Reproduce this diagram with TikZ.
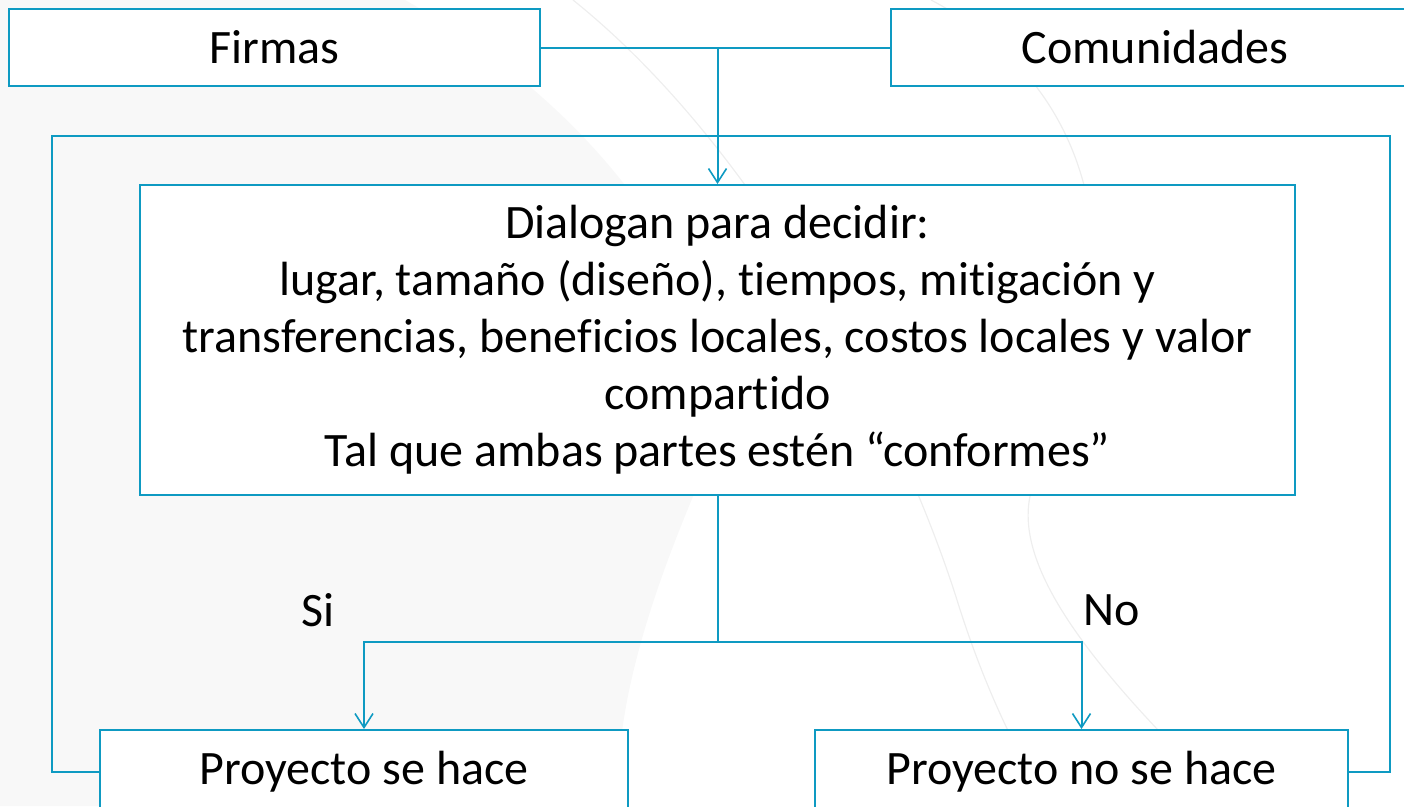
\documentclass[tikz,border=0pt]{standalone}
\usepackage{fontspec}
\setmainfont{Carlito}[Ligatures=NoCommon]
\usetikzlibrary{arrows.meta}
\definecolor{ln}{RGB}{14,154,194}
\definecolor{bggrey}{RGB}{248,248,248}
\definecolor{arcgrey}{RGB}{238,238,238}
\begin{document}
\begin{tikzpicture}[x=1pt,y=-1pt,
  box/.style={draw=ln,line width=2pt,fill=white,inner sep=0pt,align=center,
    font=\fontsize{48}{57}\selectfont},
  lbl/.style={inner sep=0pt,font=\fontsize{48}{57}\selectfont},
  conn/.style={draw=ln,line width=2pt},
  arr/.style={conn,-{Straight Barb[length=14pt,width=18pt,line width=1.6pt]}}]
\useasboundingbox (0,0) rectangle (1404,806);
\clip (0,0) rectangle (1404,806);
% faint background decoration
\fill[bggrey] (0,0) -- (405,0) .. controls (620,120) and (760,330) .. (700,480)
  .. controls (640,620) and (615,720) .. (618,806) -- (0,806) -- cycle;
\draw[arcgrey,line width=1.2pt] (573,0) .. controls (760,150) and (900,420) .. (957,600)
  .. controls (985,690) and (1020,760) .. (1050,806);
\draw[arcgrey,line width=1.2pt] (931,0) .. controls (1160,120) and (1100,380) .. (1040,470)
  .. controls (1000,540) and (1060,640) .. (1234,806);
% boxes
\node[box,minimum width=531pt,minimum height=77pt] (firmas) at (274.5,47.5) {Firmas};
\node[box,minimum width=528pt,minimum height=77pt] (comun) at (1155,47.5) {Comunidades};
\node[box,minimum width=1155pt,minimum height=310pt] (dial) at (717.5,340)
  {Dialogan para decidir:\\lugar, tamaño (diseño), tiempos, mitigación y\\transferencias, beneficios locales, costos locales y valor\\compartido\\Tal que ambas partes estén “conformes”};
\node[box,minimum width=528pt,minimum height=84pt] (proj1) at (364,772) {Proyecto se hace};
\node[box,minimum width=533pt,minimum height=84pt] (proj2) at (1081.5,772) {Proyecto no se hace};
% labels
\node[lbl] (si) at (318,610) {Si};
\node[lbl] (no) at (1112,610) {No};
% connectors
\coordinate (j1) at (717.5,47.5);
\coordinate (j2) at (717.5,642);
\coordinate (tl) at (52,136);
\coordinate (tr) at (1390,136);
\draw[conn] (firmas.east) -- (comun.west);
\draw[arr] (j1) -- (dial.north);
\draw[conn] (proj1.west) -| (tl) -- (tr) |- (proj2.east);
\draw[conn] (dial.south) -- (j2);
\draw[arr] (j2) -| (proj1.north);
\draw[arr] (j2) -| (proj2.north);
\end{tikzpicture}
\end{document}
